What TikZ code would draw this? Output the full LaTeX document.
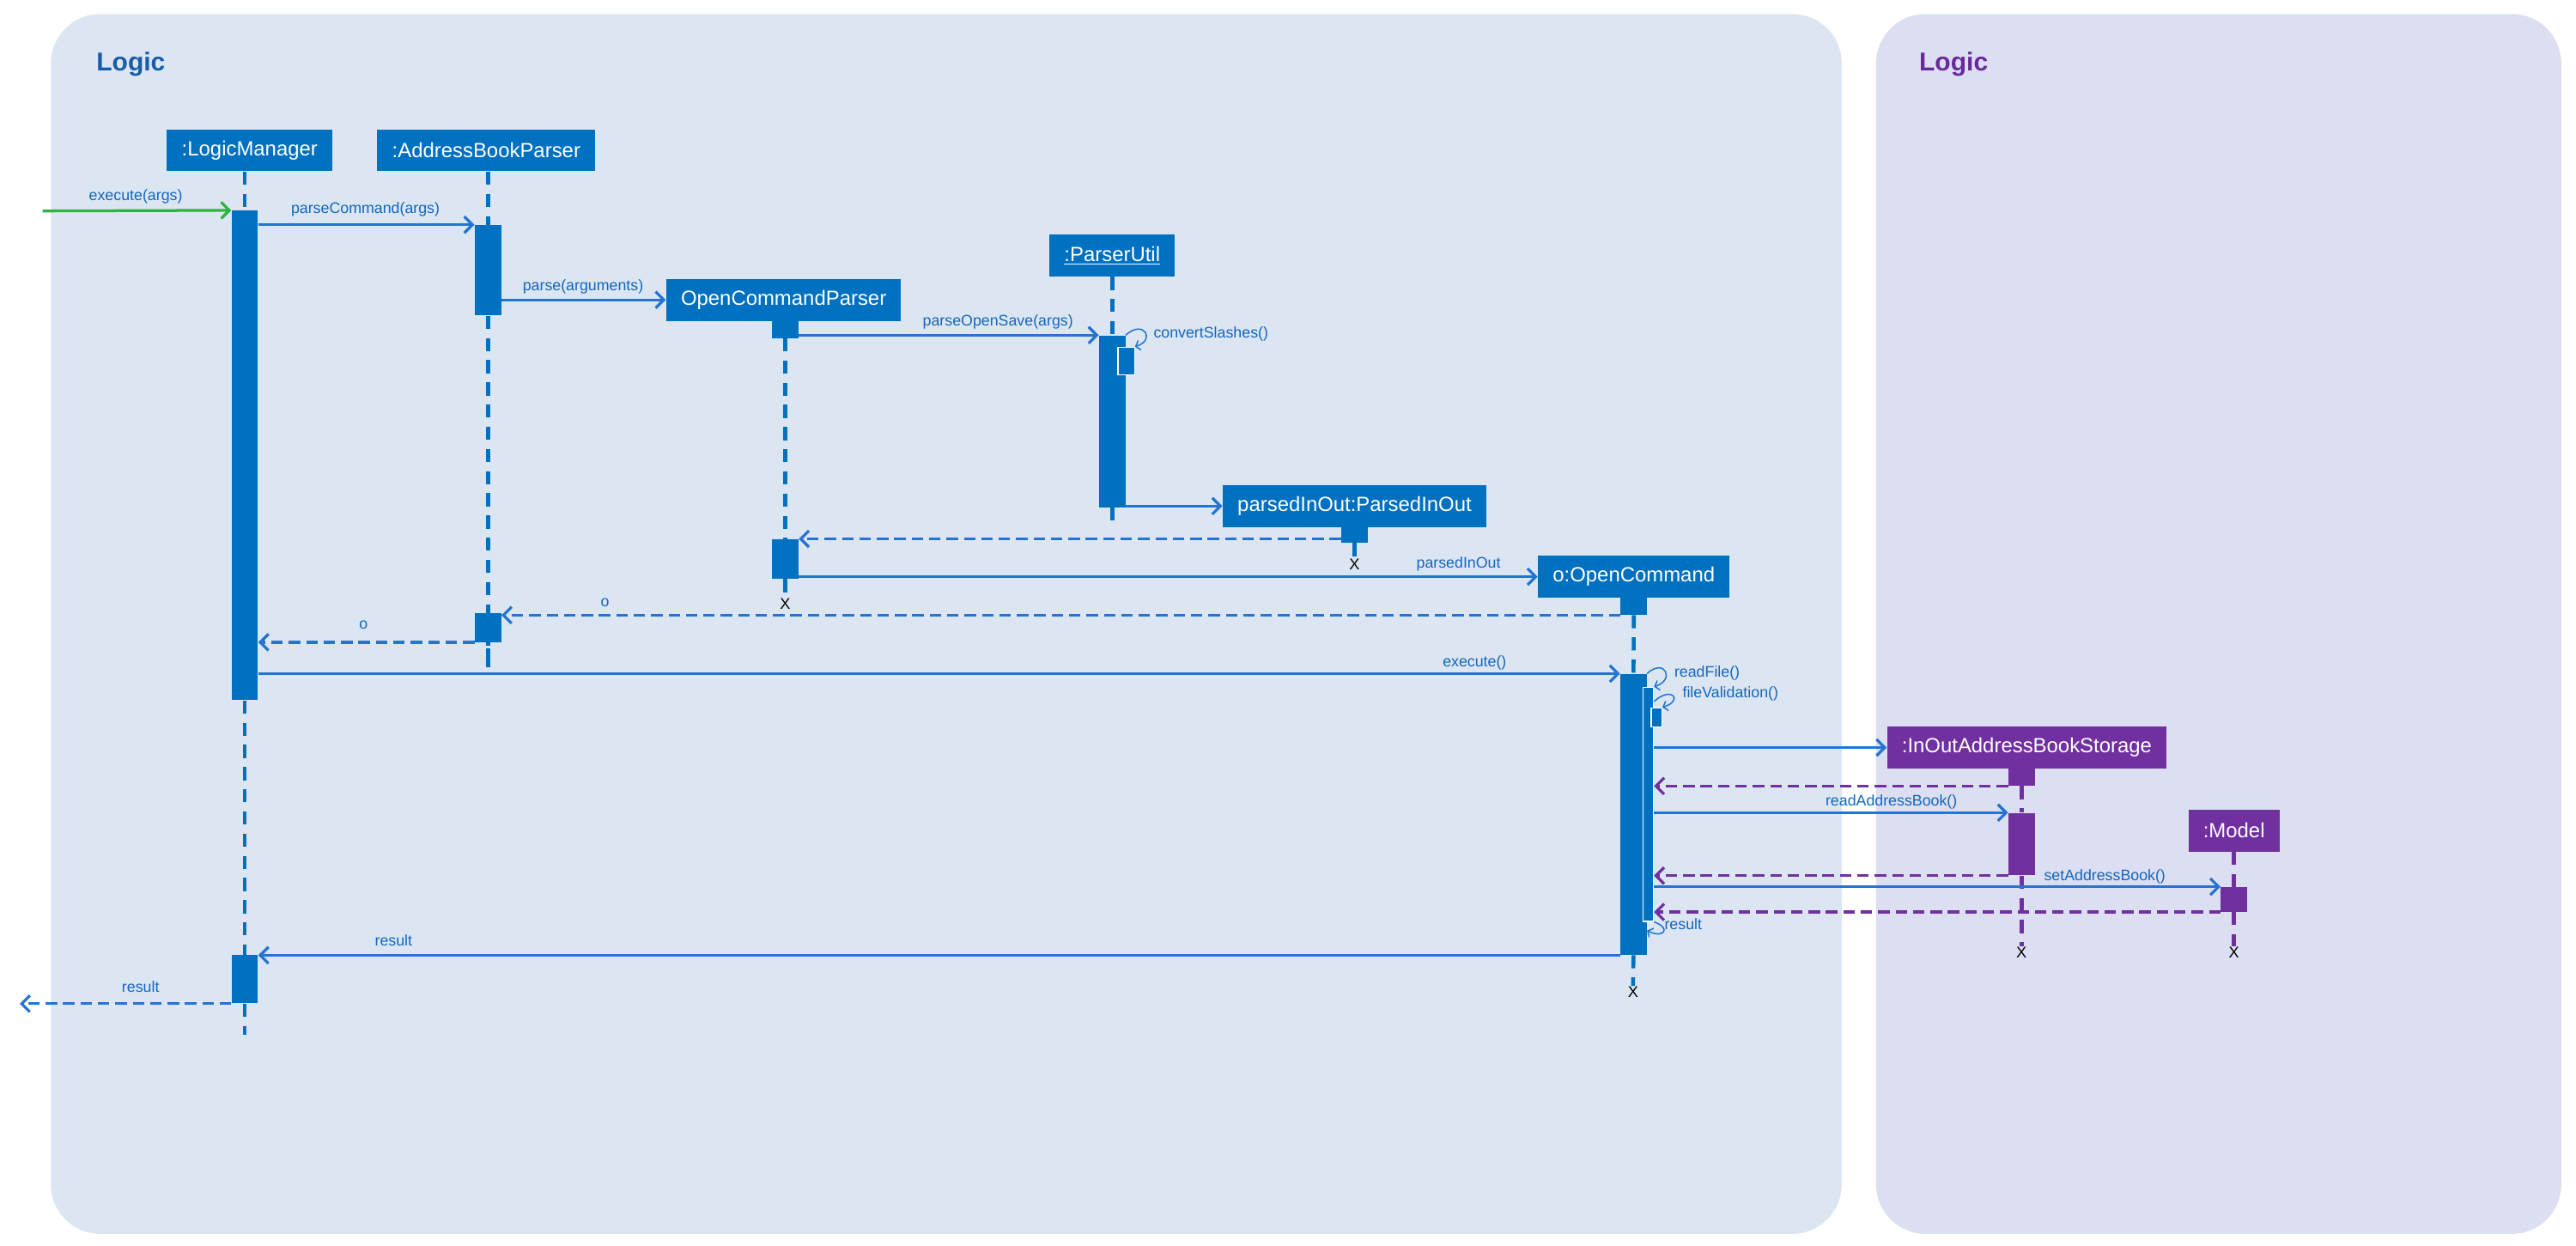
\documentclass[tikz,border=0pt]{standalone}
\usepackage{fontspec}
\setmainfont{Liberation Sans}
\usetikzlibrary{arrows.meta}

\definecolor{boxblue}{RGB}{0,112,192}
\definecolor{lineblue}{RGB}{36,116,208}
\definecolor{textblue}{RGB}{20,102,190}
\definecolor{titleblue}{RGB}{24,92,170}
\definecolor{umlpurple}{RGB}{112,48,160}
\definecolor{titlepurple}{RGB}{104,42,156}
\definecolor{callgreen}{RGB}{48,180,64}
\definecolor{logicbg}{RGB}{220,230,242}
\definecolor{storebg}{RGB}{220,223,241}

\begin{document}
\begin{tikzpicture}[x=1pt, y=-1pt,
  obj/.style={fill=boxblue, text=white, inner xsep=9pt, inner ysep=0pt, minimum height=25.5pt, font=\fontsize{12.5}{15}\selectfont},
  pobj/.style={obj, fill=umlpurple},
  act/.style={fill=boxblue, inner sep=0pt, minimum width=16pt, anchor=north},
  pact/.style={act, fill=umlpurple},
  nact/.style={act, draw=white, line width=0.6pt, minimum width=6.5pt},
  life/.style={draw=boxblue, line width=2.4pt, dash pattern=on 8pt off 5.5pt},
  plife/.style={life, draw=umlpurple},
  msg/.style={draw=lineblue, line width=1.7pt, -{Straight Barb[length=5pt,width=10pt]}},
  ret/.style={msg, dash pattern=on 7pt off 3.6pt},
  pret/.style={ret, draw=umlpurple},
  callin/.style={msg, draw=callgreen},
  self/.style={draw=lineblue, line width=0.8pt, -{Straight Barb[length=2.5pt,width=6pt]}},
  lbl/.style={anchor=base west, inner sep=0pt, text=textblue, font=\fontsize{9.3}{11}\selectfont},
  kill/.style={inner sep=0.5pt, font=\fontsize{9.5}{11}\selectfont},
  frametitle/.style={anchor=base west, inner sep=0pt, font=\bfseries\fontsize{15.7}{18}\selectfont}]
\useasboundingbox (0,0) rectangle (1568,758);
% frames
\fill[logicbg, rounded corners=30pt] (31,8.5) rectangle (1121,751);
\fill[storebg, rounded corners=30pt] (1142,8.5) rectangle (1559,751);
\node[frametitle, text=titleblue] (logicT) at (58.5,43.2) {Logic};
\node[frametitle, text=titlepurple] (storeT) at (1168,43.2) {Logic};
%
\node[obj] (lm) at (152,91.5) {:LogicManager};
\node[obj] (abp) at (296,91.5) {:AddressBookParser};
\node[obj] (ocp) at (477,182.5) {OpenCommandParser};
\node[obj] (pu) at (677,155.5) {\underline{:ParserUtil}};
\node[obj] (pio) at (824.5,308) {parsedInOut:ParsedInOut};
\node[obj] (oc) at (994.5,351) {o:OpenCommand};
\node[pobj] (ioabs) at (1233.7,455) {:InOutAddressBookStorage};
\node[pobj] (model) at (1359.8,505.6) {:Model};
%
\node[act, minimum height=298pt] (lmA) at (149,128) {};
\node[act, minimum height=29.5pt] (lmB) at (149,581) {};
\node[act, minimum height=55pt] (abpA) at (297,136.8) {};
\node[act, minimum height=17.5pt] (abpB) at (297,373) {};
\node[act, minimum height=10.5pt] (ocpA) at (478,195) {};
\node[act, minimum height=24pt] (ocpB) at (478,328) {};
\node[act, minimum height=104.5pt] (puA) at (677,204) {};
\node[nact, minimum width=10pt, minimum height=17pt] (puB) at (685.5,211) {};
\node[act, minimum height=9.5pt] (pioA) at (824.5,320.6) {};
\node[act, minimum height=10.3pt] (ocA) at (994.5,363.7) {};
\node[act, minimum height=171pt] (ocB) at (994.3,410) {};
\node[nact, minimum height=142.5pt] (ocC) at (1003.2,418) {};
\node[nact, minimum height=11.5pt] (ocD) at (1008.3,430.5) {};
\node[pact, minimum height=10.3pt] (ioA) at (1230.5,467.7) {};
\node[pact, minimum height=38pt] (ioB) at (1230.5,494.6) {};
\node[pact, minimum height=15pt] (mdA) at (1359.8,539.7) {};
%
\node[kill] (ocpX) at (478,367.6) {X};
\node[kill] (pioX) at (824.5,343.4) {X};
\node[kill] (ocX) at (994,604) {X};
\node[kill] (ioX) at (1230.5,580) {X};
\node[kill] (mdX) at (1359.8,580) {X};
\coordinate (lmEnd) at (149,630);
\coordinate (abpEnd) at (297,406);
\coordinate (puEnd) at (677,321);
\coordinate (callIn) at (26,128.4);
\coordinate (retOut) at (12,609.5);
% lifelines
\draw[life] (lmA |- lm.south) -- (lmA.north);
\draw[life] (lmA.south) -- (lmB.north);
\draw[life] (lmB.south) -- (lmEnd);
\draw[life] (abpA |- abp.south) -- (abpA.north);
\draw[life] (abpA.south) -- (abpB.north);
\draw[life, dash pattern=on 2pt off 1.5pt on 13pt off 2pt] (abpB.south) -- (abpEnd);
\draw[life] (ocpA.south) -- (ocpB.north);
\draw[life] (ocpB.south) -- (ocpX.north);
\draw[life] (puA |- pu.south) -- (puA.north);
\draw[life] (puA.south) -- (puEnd);
\draw[life] (pioA.south) -- (pioX.north);
\draw[life] (ocA.south) -- (ocB.north);
\draw[life] (ocB.south) -- (ocX.north);
\draw[plife] (ioA.south) -- (ioB.north);
\draw[plife] (ioB.south) -- (ioX.north);
\draw[plife] (mdA |- model.south) -- (mdA.north);
\draw[plife] (mdA.south) -- (mdX.north);
% messages
\draw[callin] (callIn) -- (lmA.north west);
\node[lbl] (m1) at (54,122) {execute(args)};
\draw[msg] (lmA.east |- abpA.north) -- (abpA.north west);
\node[lbl] (m2) at (177,130) {parseCommand(args)};
\draw[msg] (abpA.east |- ocp.west) -- (ocp.west);
\node[lbl] (m3) at (318,177) {parse(arguments)};
\draw[msg] (ocpA.east |- puA.north) -- (puA.north west);
\node[lbl] (m4) at (561.5,198.5) {parseOpenSave(args)};
\draw[self] (puA.north east) .. controls +(11,-10) and +(13,-4) .. (puB.north east);
\node[lbl] (m5) at (702,205.5) {convertSlashes()};
\draw[msg] (puA.east |- pio.west) -- (pio.west);
\draw[ret] (pioA.west |- ocpB.north) -- (ocpB.north east);
\draw[msg] (ocpB.east |- oc.west) -- (oc.west);
\node[lbl] (m6) at (862,345.5) {parsedInOut};
\draw[ret] (ocA.south west) -- (abpB.east |- ocA.south);
\node[lbl] (m7) at (365.5,369) {o};
\draw[ret] (abpB.south west) -- (lmA.east |- abpB.south);
\node[lbl] (m8) at (218.5,383) {o};
\draw[msg] (lmA.east |- ocB.north) -- (ocB.north west);
\node[lbl] (m9) at (878,406) {execute()};
\draw[self] (ocB.north east) .. controls +(11,-10) and +(13,-4) .. (ocC.north east);
\node[lbl] (m10) at (1019,412) {readFile()};
\draw[self] ([yshift=-9pt]ocC.north east) .. controls +(11,-10) and +(13,-4) .. (ocD.north east);
\node[lbl] (m11) at (1024,424.5) {fileValidation()};
\draw[msg] (ocC.east |- ioabs.west) -- (ioabs.west);
\draw[pret] (ioA.south west) -- (ocC.east |- ioA.south);
\draw[msg] (ocC.east |- ioB.north) -- (ioB.north west);
\node[lbl] (m12) at (1111,490.5) {readAddressBook()};
\draw[pret] (ioB.south west) -- (ocC.east |- ioB.south);
\draw[msg] (ocC.east |- mdA.north) -- (mdA.north west);
\node[lbl] (m13) at (1244,536) {setAddressBook()};
\draw[pret] (mdA.south west) -- (ocC.east |- mdA.south);
\draw[self] (ocC.south east) .. controls +(11,4) and +(10,5) .. ([yshift=15pt]ocB.south east);
\node[lbl] (m14) at (1013,566) {result};
\draw[msg] (ocB.south west) -- (lmB.east |- ocB.south);
\node[lbl] (m15) at (228,575.5) {result};
\draw[ret] (lmB.south west) -- (retOut |- lmB.south);
\node[lbl] (m16) at (74,604) {result};
%%%%%%%%%%%%%%%%%%%%%%%%%%%%%%%
\end{tikzpicture}
\end{document}
